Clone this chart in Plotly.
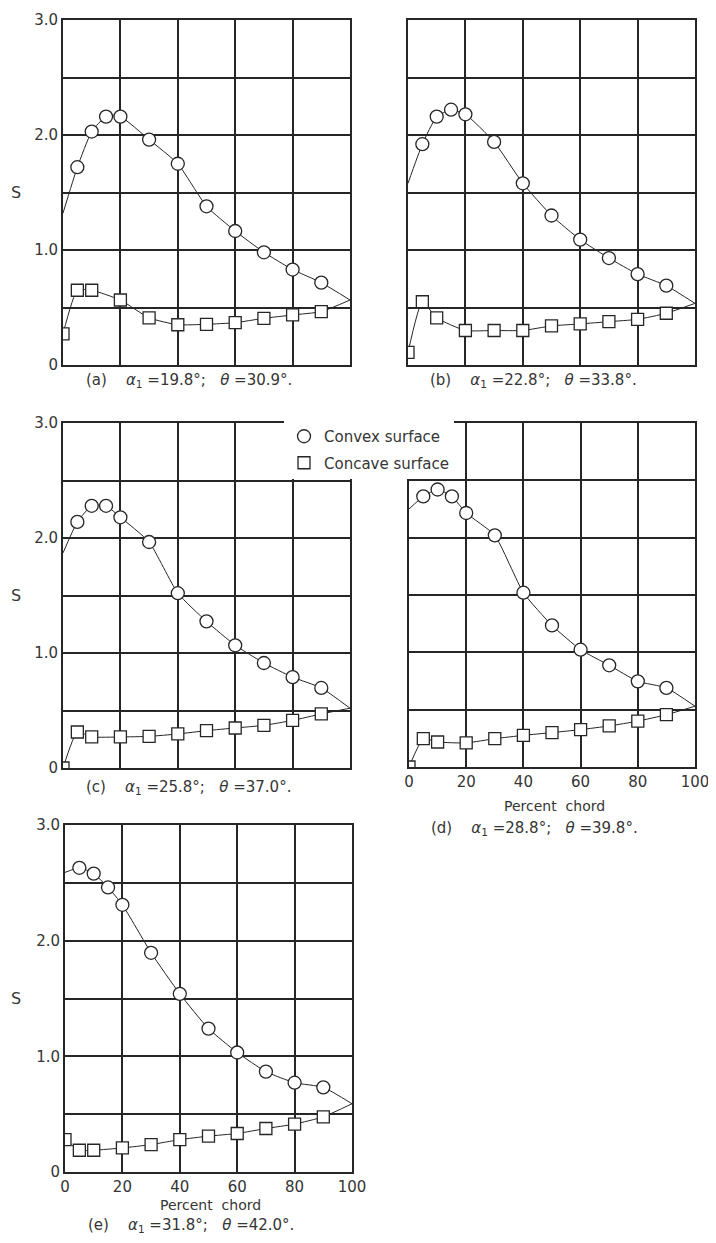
import plotly.graph_objects as go

# ---------------- data ----------------
convex_x = [5, 10, 15, 20, 30, 40, 50, 60, 70, 80, 90]
concave_x = [0, 5, 10, 20, 30, 40, 50, 60, 70, 80, 90]

convex_a = [1.72, 2.03, 2.16, 2.16, 1.96, 1.75, 1.38, 1.165, 0.98, 0.83, 0.716]
concave_a = [0.27, 0.65, 0.65, 0.565, 0.41, 0.35, 0.354, 0.368, 0.406, 0.435, 0.464]

convex_b = [1.92, 2.16, 2.22, 2.18, 1.94, 1.58, 1.30, 1.09, 0.93, 0.79, 0.69]
concave_b = [0.11, 0.55, 0.41, 0.30, 0.30, 0.30, 0.34, 0.357, 0.377, 0.397, 0.45]

convex_c = [2.14, 2.28, 2.28, 2.18, 1.965, 1.52, 1.275, 1.067, 0.913, 0.79, 0.696]
concave_c = [0.0, 0.313, 0.27, 0.27, 0.275, 0.296, 0.325, 0.348, 0.371, 0.414, 0.47]

convex_d = [2.36, 2.42, 2.36, 2.215, 2.02, 1.52, 1.235, 1.023, 0.887, 0.747, 0.69]
concave_d = [0.0, 0.247, 0.218, 0.21, 0.247, 0.276, 0.30, 0.326, 0.358, 0.40, 0.456]

convex_e = [2.63, 2.58, 2.46, 2.31, 1.895, 1.54, 1.24, 1.033, 0.868, 0.772, 0.732]
concave_e = [0.28, 0.188, 0.188, 0.208, 0.237, 0.28, 0.31, 0.333, 0.376, 0.414, 0.477]

# faired-curve end values (leading edge of convex curve, trailing edge of both)
convex_le = [1.32, 1.58, 1.87, 2.25, 2.59]
trailing_te = [0.565, 0.536, 0.52, 0.53, 0.59]

panel_labels = ["(a)", "(b)", "(c)", "(d)", "(e)"]
alpha1 = ["19.8", "22.8", "25.8", "28.8", "31.8"]
theta = ["30.9", "33.8", "37.0", "39.8", "42.0"]

y_ticks = [0, 1.0, 2.0, 3.0]
y_tick_text = ["0", "1.0", "2.0", "3.0"]
y_minor = [0.5, 1.5, 2.5]
x_ticks = [0, 20, 40, 60, 80, 100]
x_tick_text = ["0", "20", "40", "60", "80", "100"]

# ---------------- layout geometry ----------------
PAGE_W, PAGE_H = 716, 1243
OFF = 8  # default body margin of the page
W, H = PAGE_W - 2 * OFF, PAGE_H - 2 * OFF


def fx(px):
    return (px - OFF) / W


def fy(py):
    return 1 - (py - OFF) / H


# left, right, top, bottom page-pixel bounds of each plot area
boxes = [
    (63, 350, 20, 365),
    (408, 695, 20, 365),
    (63, 350, 423, 768),
    (409, 695, 423, 767),
    (65, 352, 825, 1172),
]
caption_y = [380, 380, 787, 828, 1225]
xtitle_y = [None, None, None, 806, 1205]
show_y_labels = [True, False, True, False, True]
show_x_labels = [False, False, False, True, True]

convex_sets = [convex_a, convex_b, convex_c, convex_d, convex_e]
concave_sets = [concave_a, concave_b, concave_c, concave_d, concave_e]

INK = "#262626"
TXT = "#353535"
FONT = "DejaVu Sans"

fig = go.Figure()
layout = dict(
    width=W, height=H,
    margin=dict(l=0, r=0, t=0, b=0, autoexpand=False),
    paper_bgcolor="white", plot_bgcolor="white",
    showlegend=True,
    font=dict(family=FONT, color=TXT, size=13),
)

annotations = []
for i in range(5):
    L, R, T, B = boxes[i]
    xname = "x" if i == 0 else f"x{i+1}"
    yname = "y" if i == 0 else f"y{i+1}"
    xa = "xaxis" if i == 0 else f"xaxis{i+1}"
    ya = "yaxis" if i == 0 else f"yaxis{i+1}"
    layout[xa] = dict(
        domain=[fx(L), fx(R)], anchor=yname, range=[0, 100],
        tickvals=x_ticks, ticktext=x_tick_text,
        showticklabels=show_x_labels[i],
        showgrid=True, gridcolor=INK, gridwidth=2,
        showline=True, linecolor=INK, linewidth=2, mirror=True,
        zeroline=False, ticks="", tickfont=dict(size=15, color=TXT),
        ticklabeloverflow="allow", fixedrange=True,
    )
    layout[ya] = dict(
        domain=[fy(B), fy(T)], anchor=xname, range=[0, 3],
        tickvals=y_ticks, ticktext=y_tick_text,
        showticklabels=show_y_labels[i],
        minor=dict(tickvals=y_minor, showgrid=True, gridcolor=INK, gridwidth=2, ticks=""),
        showgrid=True, gridcolor=INK, gridwidth=2,
        showline=True, linecolor=INK, linewidth=2, mirror=True,
        zeroline=False, ticks="", tickfont=dict(size=15, color=TXT),
        ticklabeloverflow="allow", fixedrange=True,
    )

    cvx = convex_sets[i]
    ccv = concave_sets[i]
    # faired curves
    fig.add_trace(go.Scatter(
        x=[0] + convex_x + [100], y=[convex_le[i]] + cvx + [trailing_te[i]],
        mode="lines", line=dict(color=INK, width=1, shape="spline", smoothing=0.5),
        xaxis=xname, yaxis=yname, showlegend=False, hoverinfo="skip"))
    fig.add_trace(go.Scatter(
        x=concave_x + [100], y=ccv + [trailing_te[i]],
        mode="lines", line=dict(color=INK, width=1, shape="spline", smoothing=0.5),
        xaxis=xname, yaxis=yname, showlegend=False, hoverinfo="skip"))
    # markers
    fig.add_trace(go.Scatter(
        x=convex_x, y=cvx, mode="markers",
        marker=dict(symbol="circle", size=13, color="white", line=dict(color=INK, width=1.3)),
        xaxis=xname, yaxis=yname, name="Convex surface", showlegend=(i == 2),
        legendgroup="convex", legendrank=1))
    fig.add_trace(go.Scatter(
        x=concave_x, y=ccv, mode="markers",
        marker=dict(symbol="square", size=12, color="white", line=dict(color=INK, width=1.3)),
        xaxis=xname, yaxis=yname, name="Concave surface", showlegend=(i == 2),
        legendgroup="concave", legendrank=2))

    # y-axis title "S"
    if show_y_labels[i]:
        annotations.append(dict(
            x=fx(16), y=fy((T + B) / 2), xref="paper", yref="paper",
            xanchor="center", yanchor="middle",
            text="S", showarrow=False, font=dict(size=16, color=TXT)))
    # x-axis title
    if show_x_labels[i]:
        annotations.append(dict(
            x=fx((L + R) / 2 + 2), y=fy(xtitle_y[i]), xref="paper", yref="paper",
            xanchor="center", yanchor="middle",
            text="Percent&nbsp;&nbsp;chord", showarrow=False, font=dict(size=14, color=TXT)))
    cap = (f"{panel_labels[i]}&nbsp;&nbsp;&nbsp;&nbsp;<i>α</i><sub>1</sub> ={alpha1[i]}°;"
           f"&nbsp;&nbsp;&nbsp;<i>θ</i> ={theta[i]}°.")
    annotations.append(dict(
        x=fx((L + R) / 2 - 18), y=fy(caption_y[i]), xref="paper", yref="paper",
        xanchor="center", yanchor="middle",
        text=cap, showarrow=False, font=dict(size=15, color=TXT)))

layout["annotations"] = annotations
layout["legend"] = dict(
    x=fx(284), y=fy(420), xanchor="left", yanchor="top",
    bgcolor="white", borderwidth=0, tracegroupgap=4,
    font=dict(size=15, color=TXT, family=FONT), itemwidth=30,
)
fig.update_layout(**layout)
fig.write_html("out.html")
